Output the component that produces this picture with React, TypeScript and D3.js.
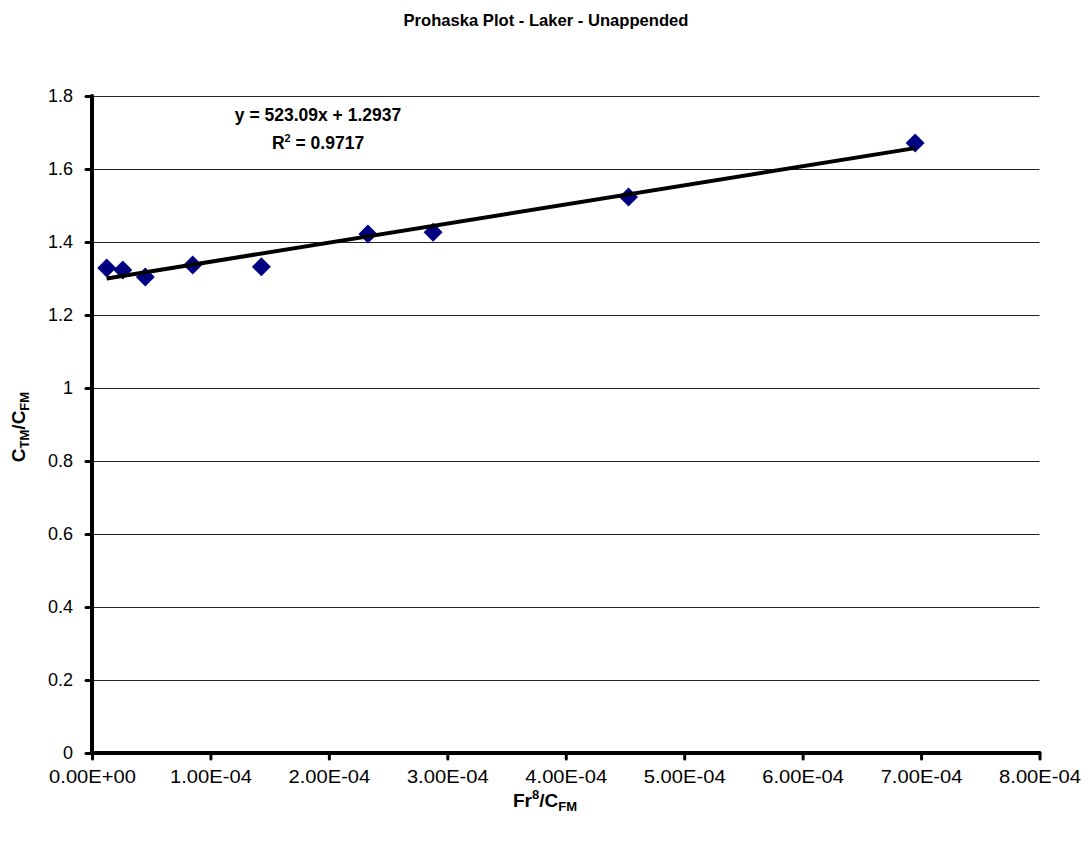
import React, { useEffect, useRef } from 'react';
import * as d3 from 'd3';

// Fr^8/C_FM values and C_TM/C_FM values
const xValues = [1.24e-5, 2.6e-5, 4.5e-5, 8.5e-5, 1.43e-4, 2.33e-4, 2.88e-4, 4.53e-4, 6.95e-4];
const yValues = [1.329, 1.323, 1.304, 1.337, 1.332, 1.422, 1.427, 1.523, 1.671];
const xTicks = [0, 1e-4, 2e-4, 3e-4, 4e-4, 5e-4, 6e-4, 7e-4, 8e-4];
const yTicks = [0, 0.2, 0.4, 0.6, 0.8, 1, 1.2, 1.4, 1.6, 1.8];
const slope = 523.09;
const intercept = 1.2937;

export default function App() {
  const svgRef = useRef<SVGSVGElement>(null);

  useEffect(() => {
    const svg = d3.select(svgRef.current);
    svg.selectAll('*').remove();

    const font = 'Liberation Sans, Arial, sans-serif';
    const left = 92, right = 1039.5, top = 96, bottom = 753;

    const x = d3.scaleLinear().domain([0, 8e-4]).range([left, right]);
    const y = d3.scaleLinear().domain([0, 1.8]).range([bottom, top]);

    // gridlines
    svg.append('g')
      .selectAll('line')
      .data(yTicks.filter(d => d > 0))
      .enter()
      .append('line')
      .attr('x1', left)
      .attr('x2', right)
      .attr('y1', d => Math.round(y(d)) + 0.5)
      .attr('y2', d => Math.round(y(d)) + 0.5)
      .attr('stroke', '#222')
      .attr('stroke-width', 1);

    // axes
    const yAxis = svg.append('g')
      .attr('transform', `translate(${left},0)`)
      .call(d3.axisLeft(y).tickValues(yTicks).tickSize(6).tickPadding(13).tickFormat(d => String(d)));
    yAxis.select('.domain').remove();
    yAxis.selectAll('.tick line').attr('stroke', '#000').attr('stroke-width', 3).attr('stroke-linecap', 'round');
    yAxis.selectAll('.tick text').attr('font-family', font).attr('font-size', 18).attr('fill', '#000');

    const xAxis = svg.append('g')
      .attr('transform', `translate(0,${bottom})`)
      .call(d3.axisBottom(x).tickValues(xTicks).tickSize(6).tickPadding(11)
        .tickFormat(d => (+d).toExponential(2).toUpperCase().replace(/E([+-])(\d)$/, 'E$10$2')));
    xAxis.select('.domain').remove();
    xAxis.selectAll('.tick line').attr('stroke', '#000').attr('stroke-width', 3).attr('stroke-linecap', 'round');
    xAxis.selectAll('.tick text').attr('font-family', font).attr('font-size', 18).attr('fill', '#000')
      .attr('transform', 'scale(1.12,1)');

    svg.append('line')
      .attr('x1', left).attr('x2', left).attr('y1', top).attr('y2', bottom)
      .attr('stroke', '#000').attr('stroke-width', 4).attr('stroke-linecap', 'round');
    svg.append('line')
      .attr('x1', left).attr('x2', right).attr('y1', bottom).attr('y2', bottom)
      .attr('stroke', '#000').attr('stroke-width', 4).attr('stroke-linecap', 'round');

    // data markers
    const points = xValues.map((v, i) => [v, yValues[i]]);
    svg.append('g')
      .selectAll('path')
      .data(points)
      .enter()
      .append('path')
      .attr('d', d3.symbol().type(d3.symbolDiamond2).size(230)())
      .attr('transform', d => `translate(${x(d[0])},${y(d[1])})`)
      .attr('fill', '#000080');

    // trend line
    const xMin = d3.min(xValues)!, xMax = d3.max(xValues)!;
    svg.append('line')
      .attr('x1', x(xMin)).attr('y1', y(slope * xMin + intercept))
      .attr('x2', x(xMax)).attr('y2', y(slope * xMax + intercept))
      .attr('stroke', '#000').attr('stroke-width', 4);

    // equation labels
    const eq = svg.append('g').attr('font-family', font).attr('font-size', 17.5).attr('font-weight', 'bold').attr('text-anchor', 'middle');
    eq.append('text').attr('x', 318).attr('y', 121).text(`y = ${slope}x + ${intercept}`);
    const r2 = eq.append('text').attr('x', 318).attr('y', 149);
    r2.append('tspan').text('R');
    r2.append('tspan').attr('font-size', 11).attr('dy', -7).text('2');
    r2.append('tspan').attr('dy', 7).text(' = 0.9717');

    // title
    svg.append('text')
      .attr('x', 546).attr('y', 26).attr('text-anchor', 'middle')
      .attr('font-family', font).attr('font-size', 16.6).attr('font-weight', 'bold')
      .text('Prohaska Plot - Laker - Unappended');

    // x axis title
    const xt = svg.append('text')
      .attr('x', 545).attr('y', 807).attr('text-anchor', 'middle')
      .attr('font-family', font).attr('font-size', 19).attr('font-weight', 'bold');
    xt.append('tspan').text('Fr');
    xt.append('tspan').attr('font-size', 13).attr('dy', -8).text('8');
    xt.append('tspan').attr('dy', 8).text('/C');
    xt.append('tspan').attr('font-size', 13).attr('dy', 4).text('FM');

    // y axis title
    const yt = svg.append('text')
      .attr('transform', 'translate(25,427) rotate(-90)')
      .attr('text-anchor', 'middle')
      .attr('font-family', font).attr('font-size', 19).attr('font-weight', 'bold');
    yt.append('tspan').text('C');
    yt.append('tspan').attr('font-size', 13).attr('dy', 4).text('TM');
    yt.append('tspan').attr('dy', -4).text('/C');
    yt.append('tspan').attr('font-size', 13).attr('dy', 4).text('FM');
  }, []);

  return (
    <svg ref={svgRef} width={1091} height={846}
      style={{ position: 'absolute', left: 0, top: 0, background: '#fff' }} />
  );
}
